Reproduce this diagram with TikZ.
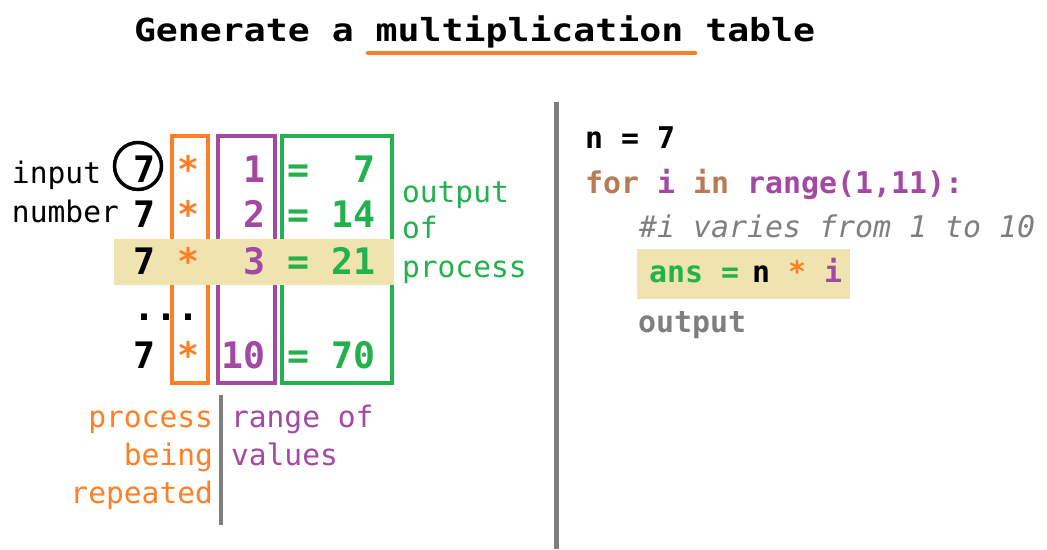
\documentclass[tikz,border=0pt]{standalone}
\usepackage{fontspec}
\newfontfamily\dvm{DejaVu Sans Mono}
\definecolor{porange}{HTML}{FF7F27}
\definecolor{ppurple}{HTML}{A349A4}
\definecolor{pgreen}{HTML}{22B14C}
\definecolor{hlyellow}{HTML}{EFE4B0}
\definecolor{pbrown}{HTML}{B97A57}
\definecolor{pgray}{HTML}{7F7F7F}
\begin{document}
\begin{tikzpicture}[x=1pt,y=-1pt,
  txt/.style={inner sep=0pt, outer sep=0pt, anchor=base west},
  big/.style={txt, font=\dvm\bfseries\fontsize{36.5pt}{40pt}\selectfont},
  code/.style={txt, font=\dvm\bfseries\fontsize{29.9pt}{34pt}\selectfont},
  comment/.style={txt, text=pgray, font=\dvm\itshape\fontsize{29.9pt}{34pt}\selectfont},
  lbl/.style={txt, font=\dvm\fontsize{29.6pt}{34pt}\selectfont},
  boxline/.style={line width=4pt},
  hl/.style={fill=hlyellow, draw=none},
  sepline/.style={draw=pgray, line width=4pt}]
\useasboundingbox (0,0) rectangle (1047,549);

% title
\node[big] (title) at (134,41) {\scalebox{1}[0.87]{Generate a multiplication table}};
\coordinate (ulA) at (368,53);
\coordinate (ulB) at (695,53);
\draw[porange, line width=4.5pt, line cap=round] (ulA) -- (ulB);

% column boxes
\draw[boxline, porange] (172,136) rectangle (208,383);
\draw[boxline, ppurple] (218,136) rectangle (275,383);
\draw[boxline, pgreen] (282,136) rectangle (392,383);

% highlighted row
\fill[hl] (114,239) rectangle (394,285);

% circle around input
\draw[line width=3.5pt] (138,166) circle (23.5);

% table rows
\node[big] (row1) at (133.5,182) {7~\textcolor{porange}{*}~~\textcolor{ppurple}{1}~\textcolor{pgreen}{=~~7}};
\node[big] (row2) at (133.5,227) {7~\textcolor{porange}{*}~~\textcolor{ppurple}{2}~\textcolor{pgreen}{=~14}};
\node[big] (row3) at (133.5,274) {7~\textcolor{porange}{*}~~\textcolor{ppurple}{3}~\textcolor{pgreen}{=~21}};
\node[big] (dots) at (133.5,320) {...};
\node[big] (row10) at (133.5,368) {7~\textcolor{porange}{*}~\textcolor{ppurple}{10}~\textcolor{pgreen}{=~70}};

% left labels
\node[lbl] (in1) at (12,183) {input};
\node[lbl] (in2) at (12,222) {number};

% output labels
\node[lbl, text=pgreen] (out1) at (402,202) {output};
\node[lbl, text=pgreen] (out2) at (402,238) {of};
\node[lbl, text=pgreen] (out3) at (402,277) {process};

% bottom labels
\node[lbl, text=porange, anchor=base east] (pr1) at (213,427) {process};
\node[lbl, text=porange, anchor=base east] (pr2) at (213,465) {being};
\node[lbl, text=porange, anchor=base east] (pr3) at (213,503) {repeated};
\node[lbl, text=ppurple] (rg1) at (231,427) {range~of};
\node[lbl, text=ppurple] (rg2) at (231,465) {values};
\coordinate (g1) at (221,395);
\coordinate (g2) at (221,525);
\draw[sepline] (g1) -- (g2);

% middle separator
\coordinate (m1) at (556.5,102);
\coordinate (m2) at (556.5,549);
\draw[draw=pgray, line width=5pt] (m1) -- (m2);

% code
\node[code] (c1) at (585,148) {n~=~7};
\node[code] (c2) at (585,193) {\textcolor{pbrown}{for}~\textcolor{ppurple}{i}~\textcolor{pbrown}{in}~\textcolor{ppurple}{range(1,11):}};
\node[comment] (c3) at (639,237) {\#i~varies~from~1~to~10};
\fill[hl] (637,249) rectangle (850,299);
\node[code, text=pgreen] (c4a) at (649,282) {ans~=};
\node[code] (c4b) at (752,282) {n~\textcolor{porange}{*}~\textcolor{ppurple}{i}};
\node[code, text=pgray] (c5) at (638,332) {output};
\end{tikzpicture}
\end{document}
